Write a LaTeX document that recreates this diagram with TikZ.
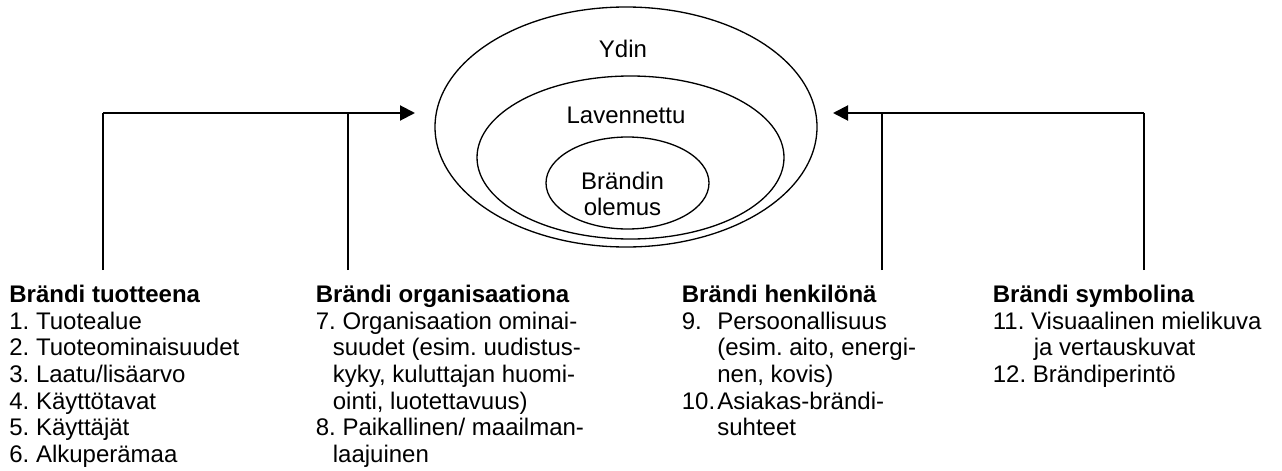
\documentclass[tikz,border=0pt]{standalone}
\usepackage{fontspec}
\setmainfont{Liberation Sans}
\usetikzlibrary{arrows.meta}
\tikzset{
  teksti/.style={inner sep=0pt, font=\fontsize{13.66}{15.14}\selectfont\frenchspacing},
  lista/.style={teksti, anchor=north west, align=left},
  kehä/.style={line width=0.75pt},
  nuoli/.style={line width=1.15pt, -{Triangle[length=0.3cm,width=0.3cm]}},
  pysty/.style={line width=0.75pt}
}

\begin{document}
\begin{tikzpicture}
\useasboundingbox (0,0) rectangle (25.64,9.4);

%brand ellipses
\draw[kehä](12.52,6.86)ellipse(3.82 and 2.40);
\draw[kehä](12.61,6.25)ellipse(3.07 and 1.63);
\draw[kehä](12.55,5.74)ellipse(1.63 and 0.92);
\node[teksti,anchor=base](ydin)at(12.46,8.26){Ydin};
\node[teksti,anchor=base](laaja)at(12.52,6.94){Lavennettu};
\node[teksti,anchor=north,align=center](olemus)at(12.45,5.97){Brändin\\olemus};

%connector points
\coordinate(vasen)at(2.06,7.14);
\coordinate(vasenvali)at(6.96,7.14);
\coordinate(vasenkarki)at(8.30,7.14);
\coordinate(oikea)at(22.88,7.14);
\coordinate(oikeavali)at(17.64,7.14);
\coordinate(oikeakarki)at(16.66,7.14);
\coordinate(tuoteala)at(2.06,4.0);
\coordinate(orgala)at(6.96,4.0);
\coordinate(henkiloala)at(17.64,4.0);
\coordinate(symboliala)at(22.88,4.0);

%arrows
\draw[nuoli](vasen)--(vasenkarki);
\draw[nuoli](oikea)--(oikeakarki);
\draw[pysty](tuoteala)--(vasen);
\draw[pysty](orgala)--(vasenvali);
\draw[pysty](henkiloala)--(oikeavali);
\draw[pysty](symboliala)--(oikea);

%lists
\node[lista](tuote)at(0.18,3.70){\textbf{Brändi tuotteena}\\
1. Tuotealue\\
2. Tuoteominaisuudet\\
3. Laatu/lisäarvo\\
4. Käyttötavat\\
5. Käyttäjät\\
6. Alkuperämaa};
\node[lista](organisaatio)at(6.31,3.70){\textbf{Brändi organisaationa}\\
7. Organisaation ominai-\\
\hspace*{0.34cm}suudet (esim. uudistus-\\
\hspace*{0.34cm}kyky, kuluttajan huomi-\\
\hspace*{0.34cm}ointi, luotettavuus)\\
8. Paikallinen/ maailman-\\
\hspace*{0.34cm}laajuinen};
\node[lista](henkilo)at(13.63,3.70){\textbf{Brändi henkilönä}\\
\makebox[0.71cm][l]{9.}Persoonallisuus\\
\hspace*{0.71cm}(esim. aito, energi-\\
\hspace*{0.71cm}nen, kovis)\\
\makebox[0.71cm][l]{10.}Asiakas-brändi-\\
\hspace*{0.71cm}suhteet};
\node[lista](symboli)at(19.85,3.70){\textbf{Brändi symbolina}\\
11. Visuaalinen mielikuva\\
\hspace*{0.82cm}ja vertauskuvat\\
12. Brändiperintö};

\end{tikzpicture}
\end{document}
